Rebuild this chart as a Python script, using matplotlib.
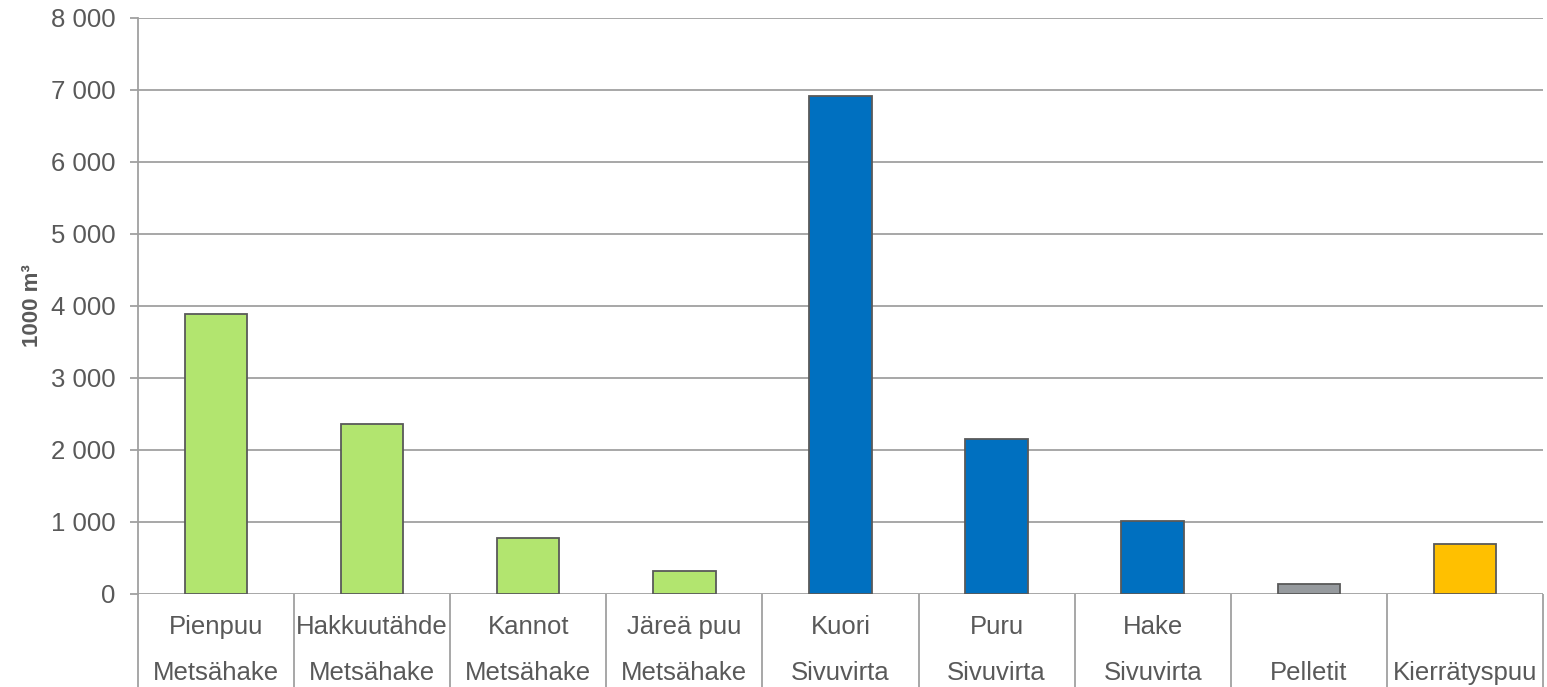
import matplotlib.pyplot as plt
import numpy as np

plt.rcParams['font.family'] = ['Liberation Sans', 'DejaVu Sans']

# data
categories = ["Pienpuu", "Hakkuutähde", "Kannot", "Järeä puu", "Kuori",
              "Puru", "Hake", "", ""]
groups = ["Metsähake", "Metsähake", "Metsähake", "Metsähake", "Sivuvirta",
          "Sivuvirta", "Sivuvirta", "Pelletit", "Kierrätyspuu"]
values = [3890, 2360, 780, 320, 6920, 2150, 1010, 140, 690]
colors = ["#b2e56f"] * 4 + ["#0070c0"] * 3 + ["#969a9e", "#ffc000"]

text_color = "#595959"
line_color = "#a0a0a0"

fig = plt.figure(figsize=(15.47, 6.87), dpi=100)
ax = fig.add_axes([0.0892, 0.1354, 0.9082, 0.8384])

x = np.arange(len(values))
ax.bar(x, values, width=0.4, color=colors, edgecolor="#595959",
       linewidth=1.3, zorder=3)

ax.set_xlim(-0.5, len(values) - 0.5)
ax.set_ylim(0, 8000)
yt = np.arange(0, 8001, 1000)
ax.set_yticks(yt)
ax.set_yticklabels([f"{int(v):,}".replace(",", " ") for v in yt])
ax.grid(axis="y", color=line_color, linewidth=1.3, zorder=0)
ax.tick_params(axis="y", colors=line_color, labelcolor=text_color,
               labelsize=18.5, length=6, width=1.3, pad=10)

for s in ["top", "right", "bottom"]:
    ax.spines[s].set_visible(False)
ax.spines["left"].set_color(line_color)
ax.spines["left"].set_linewidth(1.3)

# category separators reaching down through the label rows
ax.set_xticks(x)
ax.set_xticklabels([])
ax.tick_params(axis="x", which="major", length=0)
ax.set_xticks(np.arange(-0.5, len(values)), minor=True)
ax.tick_params(axis="x", which="minor", length=68, width=1.3, color=line_color)

trans = ax.get_xaxis_transform()
for i in x:
    if categories[i]:
        ax.text(i, -0.057, categories[i], transform=trans, ha="center",
                va="center", fontsize=18.5, color=text_color)
    if groups[i]:
        ax.text(i, -0.137, groups[i], transform=trans, ha="center",
                va="center", fontsize=18.5, color=text_color)

ax.set_ylabel("1000 m³", fontsize=16, fontweight="bold", color=text_color,
              labelpad=6)

fig.savefig("out.png", dpi=100)
